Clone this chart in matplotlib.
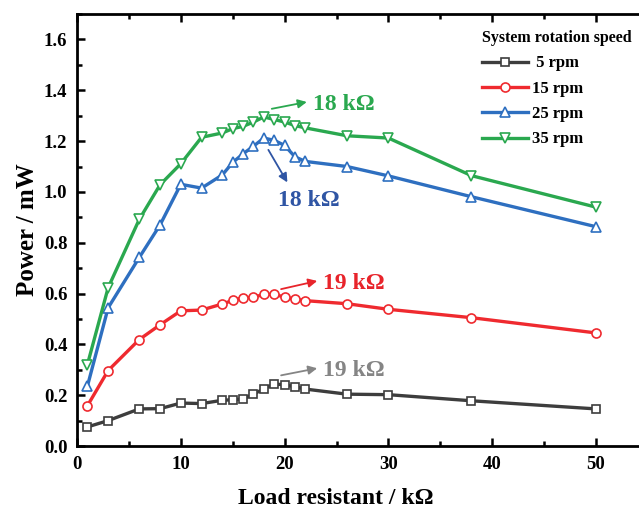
import matplotlib
matplotlib.use("Agg")
import matplotlib.pyplot as plt
from matplotlib.ticker import MultipleLocator

plt.rcParams['font.family'] = ['Liberation Serif', 'DejaVu Serif']
plt.rcParams['font.weight'] = 'bold'

# load resistance (kOhm)
resistance = [1, 3, 6, 8, 10, 12, 14, 15, 16, 17, 18, 19, 20, 21, 22, 26, 30, 38, 50]

# output power (mW) at each rotation speed
power_5 = [0.075, 0.100, 0.146, 0.147, 0.169, 0.167, 0.180, 0.182, 0.185, 0.204,
           0.225, 0.244, 0.241, 0.233, 0.224, 0.204, 0.202, 0.178, 0.146]
power_15 = [0.158, 0.297, 0.419, 0.477, 0.532, 0.535, 0.559, 0.573, 0.584, 0.585,
            0.597, 0.597, 0.586, 0.578, 0.572, 0.560, 0.538, 0.505, 0.445]
power_25 = [0.235, 0.544, 0.742, 0.870, 1.030, 1.015, 1.067, 1.116, 1.150, 1.180,
            1.212, 1.203, 1.183, 1.138, 1.120, 1.100, 1.063, 0.981, 0.863]
power_35 = [0.320, 0.623, 0.892, 1.028, 1.111, 1.215, 1.232, 1.249, 1.258, 1.275,
            1.295, 1.285, 1.275, 1.261, 1.252, 1.221, 1.212, 1.064, 0.940]

labels = [' 5 rpm', '15 rpm', '25 rpm', '35 rpm']
colors = ['#3d3d3d', '#ef2a2f', '#2e6fc0', '#2aa84f']
markers = ['s', 'o', '^', 'v']
msizes = [6, 6.5, 7, 7]

fig = plt.figure(figsize=(6.39, 5.13), dpi=100)
ax = fig.add_axes([0.1205, 0.1306, 0.8805, 0.842])

for ys, lab, c, m, ms in zip([power_5, power_15, power_25, power_35], labels, colors, markers, msizes):
    ax.plot(resistance, ys, color=c, lw=2.4, marker=m, markersize=ms,
            markerfacecolor='white', markeredgecolor=c, markeredgewidth=1.2, label=lab)

ax.set_xlim(0, 54.2)
ax.set_ylim(0, 1.7)
ax.xaxis.set_major_locator(MultipleLocator(10))
ax.xaxis.set_minor_locator(MultipleLocator(5))
ax.yaxis.set_major_locator(MultipleLocator(0.2))
ax.yaxis.set_minor_locator(MultipleLocator(0.1))
ax.yaxis.set_major_formatter(plt.FormatStrFormatter('%.1f'))
ax.tick_params(which='both', direction='in', width=1.8, top=True, labelsize=13.5)
ax.tick_params(which='major', length=6)
ax.tick_params(which='minor', length=3.5)
ax.tick_params(axis='x', pad=7)
ax.tick_params(axis='y', pad=7)
for s in ax.spines.values():
    s.set_linewidth(2)
ax.spines['right'].set_visible(False)

ax.set_xlabel('Load resistant / k\u03a9', fontsize=17, fontweight='bold')
ax.set_ylabel('Power / mW', fontsize=18, fontweight='bold')
ax.xaxis.set_label_coords(0.459, -0.097)
ax.yaxis.set_label_coords(-0.068, 0.5)

# peak markers
notes = [
    ('18 k\u03a9', (18.5, 1.325), (22.7, 1.344), '#2aa84f'),
    ('18 k\u03a9', (18.3, 1.175), (19.4, 0.968), '#2f55a4'),
    ('19 k\u03a9', (19.4, 0.615), (23.7, 0.640), '#e8242b'),
    ('19 k\u03a9', (19.4, 0.276), (23.7, 0.296), '#858585'),
]
for txt, tip_from, pos, c in notes:
    ax.text(pos[0], pos[1], txt, color=c, fontsize=17, fontweight='bold',
            ha='left', va='center')
for txt, tip_from, pos, c in notes:
    if pos[1] < tip_from[1]:
        end = (pos[0] + 1.0, pos[1] + 0.06)
    else:
        end = (pos[0] - 0.3, pos[1] + 0.012)
    ax.annotate('', xy=end, xytext=tip_from,
                arrowprops=dict(arrowstyle='-|>', color=c, lw=1.3, mutation_scale=13))

leg = ax.legend(title='System rotation speed', loc='upper right', frameon=False,
                fontsize=12, title_fontproperties={'weight': 'bold', 'size': 11.5},
                handlelength=2.75, handletextpad=0.25, labelspacing=0.56,
                alignment='left', bbox_to_anchor=(1.0, 0.982), borderaxespad=0.1)
for t in leg.get_texts():
    t.set_fontweight('bold')

fig.savefig('out.png', dpi=100)
